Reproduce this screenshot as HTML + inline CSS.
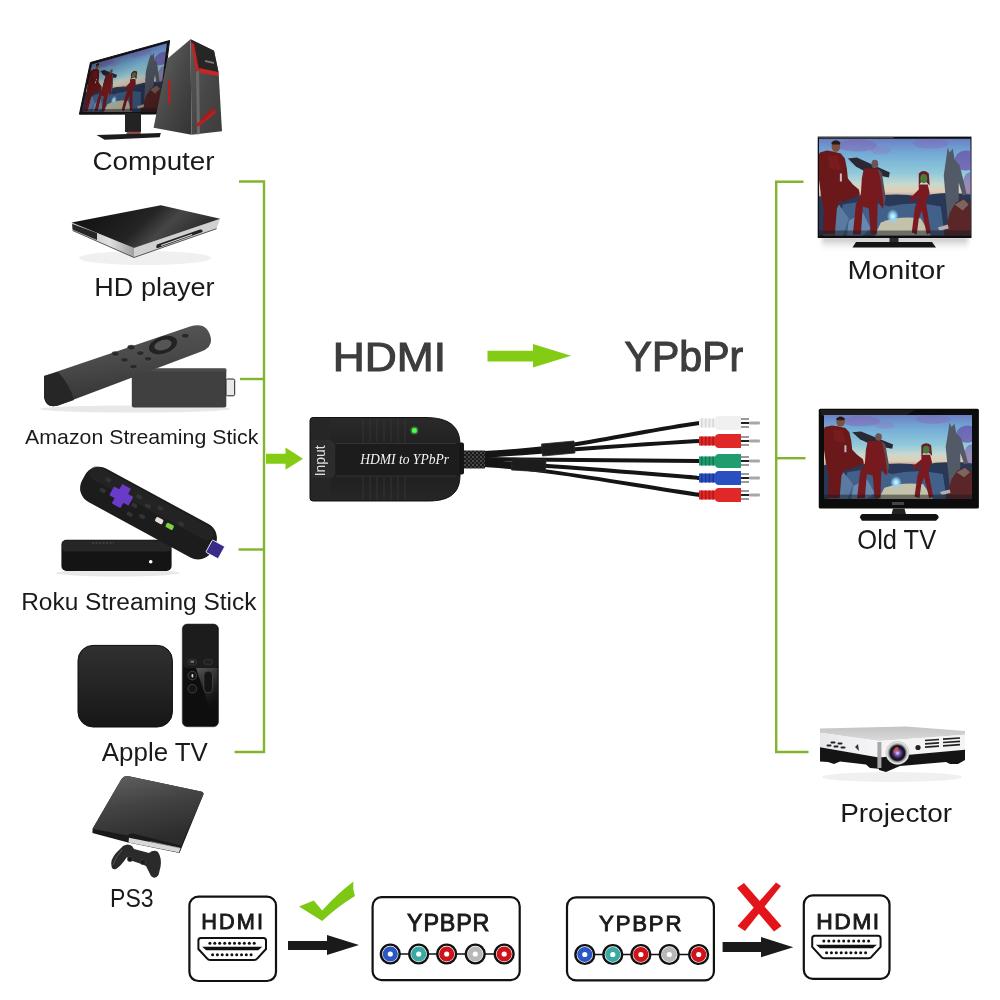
<!DOCTYPE html>
<html><head><meta charset="utf-8"><style>
html,body{margin:0;padding:0;background:#fff;width:1000px;height:1000px;overflow:hidden;position:relative}
svg{display:block}
</style></head><body>
<svg width="1000" height="1000" viewBox="0 0 1000 1000">
<rect width="1000" height="1000" fill="#ffffff"/>
<g opacity="0.999">
<defs>
<linearGradient id="sky" x1="0" y1="0" x2="0" y2="1">
<stop offset="0" stop-color="#6a80c4"/><stop offset="0.16" stop-color="#74acd6"/><stop offset="0.36" stop-color="#92cada"/><stop offset="0.47" stop-color="#c8d8d0"/><stop offset="0.55" stop-color="#e4ccb0"/><stop offset="0.63" stop-color="#6a80a4"/><stop offset="1" stop-color="#222c44"/></linearGradient>
<radialGradient id="glow" cx="0.5" cy="0.5" r="0.5"><stop offset="0" stop-color="#eaf8ff"/><stop offset="0.45" stop-color="#90d0f4"/><stop offset="1" stop-color="#90d0f4" stop-opacity="0"/></radialGradient>
<symbol id="poster" viewBox="0 0 152 97" preserveAspectRatio="none">
<rect width="152" height="97" fill="url(#sky)"/>
<ellipse cx="38" cy="7" rx="20" ry="6" fill="#8a5ab0" opacity="0.4"/>
<ellipse cx="62" cy="12" rx="10" ry="4" fill="#9a6ac0" opacity="0.3"/>
<ellipse cx="147" cy="22" rx="11" ry="10" fill="#6a4aa8" opacity="0.7"/>
<ellipse cx="112" cy="5" rx="18" ry="5" fill="#8a60b8" opacity="0.35"/>
<ellipse cx="151" cy="46" rx="7" ry="12" fill="#6a50a8" opacity="0.55"/>
<path d="M0,58 Q25,53 50,58 Q80,54 100,58 Q125,52 152,56 V97 H0 Z" fill="#2a3858"/>
<path d="M24,66 Q50,60 70,68 Q95,62 122,68 L126,97 H18 Z" fill="#41608a"/>
<path d="M8,74 L20,66 L30,80 L24,97 H4 Z" fill="#5a7aa0"/>
<path d="M62,84 Q80,77 102,80 L112,97 H56 Z" fill="#dcd4b0" opacity="0.85"/>
<path d="M30,82 L44,74 L52,90 L44,97 H28 Z" fill="#6888b0"/>
<ellipse cx="74" cy="78" rx="6" ry="7.5" fill="url(#glow)"/>
<path d="M1,14 L8,12 L14,13 L22,15 L26,20 L28,30 L29,40 L34,46 L40,51 L41,56 L36,59 L29,61 L25,64 L22,62 L18,70 L16,96 L4,96 L5,72 L2,56 L0,40 L0,16 Z" fill="#6a181a"/>
<path d="M9,17 L19,17 L22,32 L11,30 Z" fill="#822022" opacity="0.6"/>
<path d="M21,35 L23,35 L23,43 L21,43 Z" fill="#dde8f0" opacity="0.8"/>
<ellipse cx="17" cy="8" rx="4.3" ry="5.3" fill="#7a5040"/>
<path d="M12.5,4 Q17,-0.5 21.5,4 L21,6 L13,6 Z" fill="#2a1a14"/>
<path d="M29,20 L38,19 L71,34 L70,39 L50,35 L37,28 Z" fill="#2a2834"/>
<ellipse cx="56" cy="25.5" rx="3.4" ry="4.3" fill="#6a5458"/>
<path d="M45,30 L59,30 L62,40 L66,62 L64,70 L61,66 L59,58 L58,96 L52,96 L50,70 L44,68 L42,96 L34,96 L37,66 L42,56 L43,40 Z" fill="#761a1e"/>
<path d="M59,30 L63,34 L67,60 L65,68 L62,42 Z" fill="#5a4a54"/>
<path d="M100,46 L109,46 L111,55 L107,63 L112,94 L108,96 L103,72 L100,80 L98,96 L93,94 L96,70 L100,58 L94,63 L90,61 L100,51 Z" fill="#7a1a20"/>
<path d="M100,35 Q105,30 110,35 L111,47 L108,44 L104,41 L100,47 Z" fill="#6a1a24"/>
<ellipse cx="105" cy="40" rx="3.5" ry="4.6" fill="#4a7a3a"/>
<path d="M129,9 L131,14 L134,10 L136,21 L141,27 L145,43 L148,56 L144,57 L140,44 L140,60 L136,92 L130,92 L127,60 L125,37 L127,23 Z" fill="#525a68"/>
<path d="M126,95 L131,74 L137,64 L145,60 L152,66 V97 H124 Z" fill="#5a2628"/>
<path d="M136,66 L145,61 L150,66 L144,72 Z" fill="#8a8078" opacity="0.7"/>
<path d="M119,89 L129,86 L130,90 L121,92 Z" fill="#b8b0a8"/>
<rect x="0" y="92" width="152" height="5" fill="#1a1a22" opacity="0.5"/>
</symbol>
</defs>
<text transform="translate(92.41,169.70) scale(1.0671,1)" font-family="Liberation Sans" font-weight="normal" font-style="normal" font-size="26.09" fill="#1a1a1a" >Computer</text>
<text transform="translate(94.34,296.00) scale(1.0202,1)" font-family="Liberation Sans" font-weight="normal" font-style="normal" font-size="26.52" fill="#1a1a1a" >HD player</text>
<text transform="translate(25.09,444.00) scale(1.0143,1)" font-family="Liberation Sans" font-weight="normal" font-style="normal" font-size="21.01" fill="#1a1a1a" >Amazon Streaming Stick</text>
<text transform="translate(21.14,609.60) scale(1.0028,1)" font-family="Liberation Sans" font-weight="normal" font-style="normal" font-size="24.42" fill="#1a1a1a" >Roku Streaming Stick</text>
<text transform="translate(101.87,761.00) scale(0.9919,1)" font-family="Liberation Sans" font-weight="normal" font-style="normal" font-size="26.09" fill="#1a1a1a" >Apple TV</text>
<text transform="translate(110.06,907.00) scale(0.8673,1)" font-family="Liberation Sans" font-weight="normal" font-style="normal" font-size="26.52" fill="#1a1a1a" >PS3</text>
<text transform="translate(847.46,278.80) scale(1.1087,1)" font-family="Liberation Sans" font-weight="normal" font-style="normal" font-size="26.38" fill="#1a1a1a" >Monitor</text>
<text transform="translate(857.35,549.00) scale(0.9258,1)" font-family="Liberation Sans" font-weight="normal" font-style="normal" font-size="27.54" fill="#1a1a1a" >Old TV</text>
<text transform="translate(840.16,822.20) scale(1.0779,1)" font-family="Liberation Sans" font-weight="normal" font-style="normal" font-size="25.94" fill="#1a1a1a" >Projector</text>
<text transform="translate(332.65,370.70) scale(1.0818,1)" font-family="Liberation Sans" font-weight="normal" font-style="normal" font-size="41.01" fill="#3d3d3d" stroke="#3d3d3d" stroke-width="1.1">HDMI</text>
<text transform="translate(624.57,370.60) scale(0.9836,1)" font-family="Liberation Sans" font-weight="normal" font-style="normal" font-size="41.74" fill="#3d3d3d" stroke="#3d3d3d" stroke-width="1.1">YPbPr</text>
<g stroke="#80b52c" stroke-width="2.4" fill="none" stroke-linecap="butt">
<path d="M239,181.5 H264 V752 H234.5"/>
<path d="M240,379 H264"/><path d="M238.5,549.5 H264"/>
<path d="M803.5,181.8 H776.2 V752 H808.5"/><path d="M776,458.2 H805.5"/>
</g>
<path d="M266,453.8 H285.5 V447.6 L303,458.8 L285.5,469.8 V463.8 H266 Z" fill="#84cc14"/>
<path d="M487.5,350.8 H533 V344 L571,355.8 L533,367.6 V361.6 H487.5 Z" fill="#84cc14"/>
<rect x="189.4" y="896.6" width="86.6" height="84.39999999999998" rx="9" fill="#fff" stroke="#111" stroke-width="2.2"/>
<text x="201.26" y="929.40" letter-spacing="2.087" font-family="Liberation Sans" font-weight="normal" font-style="normal" font-size="21.74" fill="#1a1a1a" stroke="#1a1a1a" stroke-width="0.9">HDMI</text>
<path d="M200.9,938 H263.5 Q266,938 266,940.5 V949.0 L257.212,958.5 Q256.212,960 254.212,960 H210.18800000000002 Q208.18800000000002,960 207.18800000000002,958.5 L198.4,949.0 V940.5 Q198.4,938 200.9,938 Z" fill="#fff" stroke="#111" stroke-width="2"/><path d="M202.118,946.84 H262.282 L258.282,950.24 H206.118 Z" fill="#111"/><circle cx="209.9" cy="943.3" r="1.5" fill="#111"/><circle cx="214.8" cy="943.3" r="1.5" fill="#111"/><circle cx="219.7" cy="943.3" r="1.5" fill="#111"/><circle cx="224.7" cy="943.3" r="1.5" fill="#111"/><circle cx="229.6" cy="943.3" r="1.5" fill="#111"/><circle cx="234.5" cy="943.3" r="1.5" fill="#111"/><circle cx="239.4" cy="943.3" r="1.5" fill="#111"/><circle cx="244.3" cy="943.3" r="1.5" fill="#111"/><circle cx="249.3" cy="943.3" r="1.5" fill="#111"/><circle cx="254.2" cy="943.3" r="1.5" fill="#111"/><circle cx="212.6" cy="954.7" r="1.5" fill="#111"/><circle cx="217.4" cy="954.7" r="1.5" fill="#111"/><circle cx="222.2" cy="954.7" r="1.5" fill="#111"/><circle cx="227.0" cy="954.7" r="1.5" fill="#111"/><circle cx="231.9" cy="954.7" r="1.5" fill="#111"/><circle cx="236.7" cy="954.7" r="1.5" fill="#111"/><circle cx="241.5" cy="954.7" r="1.5" fill="#111"/><circle cx="246.3" cy="954.7" r="1.5" fill="#111"/><circle cx="251.1" cy="954.7" r="1.5" fill="#111"/>
<path d="M288,941 H327 V935 L359,945.0 L327,955 V950 H288 Z" fill="#1a1a1a"/>
<path d="M299,906.5 L313.8,900.4 L322.2,910.4 Q337,894 353.5,881.5 Q352.5,889 355,896 Q337,907 322.2,921 Z" fill="#7cc814"/>
<rect x="372.6" y="897.2" width="147.10000000000002" height="83.0" rx="9" fill="#fff" stroke="#111" stroke-width="2.2"/>
<text x="407.02" y="931.00" letter-spacing="0.833" font-family="Liberation Sans" font-weight="normal" font-style="normal" font-size="23.33" fill="#1a1a1a" stroke="#1a1a1a" stroke-width="0.9">YPBPR</text>
<line x1="390.3" y1="954" x2="504.2" y2="954" stroke="#111" stroke-width="1.6"/><circle cx="390.3" cy="954" r="9.4" fill="#fff" stroke="#111" stroke-width="2.4"/><circle cx="390.3" cy="954" r="5.1" fill="none" stroke="#2a56c6" stroke-width="5"/><circle cx="418.7" cy="954" r="9.4" fill="#fff" stroke="#111" stroke-width="2.4"/><circle cx="418.7" cy="954" r="5.1" fill="none" stroke="#3aa9a3" stroke-width="5"/><circle cx="446.7" cy="954" r="9.4" fill="#fff" stroke="#111" stroke-width="2.4"/><circle cx="446.7" cy="954" r="5.1" fill="none" stroke="#d0131b" stroke-width="5"/><circle cx="475.3" cy="954" r="9.4" fill="#fff" stroke="#111" stroke-width="2.4"/><circle cx="475.3" cy="954" r="5.1" fill="none" stroke="#b8b8b8" stroke-width="5"/><circle cx="504.2" cy="954" r="9.4" fill="#fff" stroke="#111" stroke-width="2.4"/><circle cx="504.2" cy="954" r="5.1" fill="none" stroke="#d0131b" stroke-width="5"/>
<rect x="567" y="897.4" width="146.89999999999998" height="83.0" rx="9" fill="#fff" stroke="#111" stroke-width="2.2"/>
<text x="599.05" y="930.90" letter-spacing="1.821" font-family="Liberation Sans" font-weight="normal" font-style="normal" font-size="22.17" fill="#1a1a1a" stroke="#1a1a1a" stroke-width="0.9">YPBPR</text>
<line x1="584.8" y1="954.5" x2="698.7" y2="954.5" stroke="#111" stroke-width="1.6"/><circle cx="584.8" cy="954.5" r="9.4" fill="#fff" stroke="#111" stroke-width="2.4"/><circle cx="584.8" cy="954.5" r="5.1" fill="none" stroke="#2a56c6" stroke-width="5"/><circle cx="612.8" cy="954.5" r="9.4" fill="#fff" stroke="#111" stroke-width="2.4"/><circle cx="612.8" cy="954.5" r="5.1" fill="none" stroke="#3aa9a3" stroke-width="5"/><circle cx="640.9" cy="954.5" r="9.4" fill="#fff" stroke="#111" stroke-width="2.4"/><circle cx="640.9" cy="954.5" r="5.1" fill="none" stroke="#d0131b" stroke-width="5"/><circle cx="669.3" cy="954.5" r="9.4" fill="#fff" stroke="#111" stroke-width="2.4"/><circle cx="669.3" cy="954.5" r="5.1" fill="none" stroke="#b8b8b8" stroke-width="5"/><circle cx="698.7" cy="954.5" r="9.4" fill="#fff" stroke="#111" stroke-width="2.4"/><circle cx="698.7" cy="954.5" r="5.1" fill="none" stroke="#d0131b" stroke-width="5"/>
<path d="M722.6,942 H761 V937 L793.3,947.15 L761,957.3 V952 H722.6 Z" fill="#1a1a1a"/>
<g fill="#e3151a"><path d="M737,888 L744,883 L781.5,926 L774,931.5 Z"/><path d="M776,882.5 L781,886 L745,931 L737.5,926 Z"/></g>
<rect x="803.8" y="895.3" width="85.70000000000005" height="83.5" rx="9" fill="#fff" stroke="#111" stroke-width="2.2"/>
<text x="816.17" y="929.00" letter-spacing="1.500" font-family="Liberation Sans" font-weight="normal" font-style="normal" font-size="22.90" fill="#1a1a1a" stroke="#1a1a1a" stroke-width="0.9">HDMI</text>
<path d="M814.7,935.7 H878.1 Q880.6,935.7 880.6,938.2 V946.95 L871.708,956.7 Q870.708,958.2 868.708,958.2 H824.0920000000001 Q822.0920000000001,958.2 821.0920000000001,956.7 L812.2,946.95 V938.2 Q812.2,935.7 814.7,935.7 Z" fill="#fff" stroke="#111" stroke-width="2"/><path d="M815.962,944.7750000000001 H876.8380000000001 L872.8380000000001,948.1750000000001 H819.962 Z" fill="#111"/><circle cx="823.8" cy="941.1" r="1.5" fill="#111"/><circle cx="828.8" cy="941.1" r="1.5" fill="#111"/><circle cx="833.8" cy="941.1" r="1.5" fill="#111"/><circle cx="838.8" cy="941.1" r="1.5" fill="#111"/><circle cx="843.7" cy="941.1" r="1.5" fill="#111"/><circle cx="848.7" cy="941.1" r="1.5" fill="#111"/><circle cx="853.7" cy="941.1" r="1.5" fill="#111"/><circle cx="858.7" cy="941.1" r="1.5" fill="#111"/><circle cx="863.7" cy="941.1" r="1.5" fill="#111"/><circle cx="868.6" cy="941.1" r="1.5" fill="#111"/><circle cx="826.6" cy="952.8" r="1.5" fill="#111"/><circle cx="831.4" cy="952.8" r="1.5" fill="#111"/><circle cx="836.3" cy="952.8" r="1.5" fill="#111"/><circle cx="841.2" cy="952.8" r="1.5" fill="#111"/><circle cx="846.1" cy="952.8" r="1.5" fill="#111"/><circle cx="850.9" cy="952.8" r="1.5" fill="#111"/><circle cx="855.8" cy="952.8" r="1.5" fill="#111"/><circle cx="860.7" cy="952.8" r="1.5" fill="#111"/><circle cx="865.6" cy="952.8" r="1.5" fill="#111"/>
<defs>
<linearGradient id="devg" x1="0" y1="0" x2="0" y2="1">
<stop offset="0" stop-color="#2a2a2a"/><stop offset="0.5" stop-color="#1d1d1d"/><stop offset="1" stop-color="#262626"/></linearGradient>
<pattern id="braid" width="4" height="4" patternUnits="userSpaceOnUse"><rect width="4" height="4" fill="#1a1a1a"/><rect x="0" y="0" width="2" height="2" fill="#4a4a4a"/><rect x="2" y="2" width="2" height="2" fill="#3a3a3a"/></pattern>
</defs>
<path d="M484,453 C520,451 560,448 600,440 C640,433 670,427 700,423" fill="none" stroke="#151515" stroke-width="4"/>
<path d="M484,456 C530,453 600,447 700,441" fill="none" stroke="#151515" stroke-width="4"/>
<path d="M484,459 C560,460 640,460 700,461" fill="none" stroke="#151515" stroke-width="4"/>
<path d="M484,462 C560,466 640,473 700,478" fill="none" stroke="#151515" stroke-width="4"/>
<path d="M484,465 C540,468 620,483 700,495" fill="none" stroke="#151515" stroke-width="4"/>
<path d="M541.5,444 L574,441 L575,453 L542.5,456 Z" fill="#1c1c1c" stroke="#2c2c2c" stroke-width="0.8"/>
<path d="M512,458 L546,460 L545.5,472 L511.5,470 Z" fill="#1c1c1c" stroke="#2c2c2c" stroke-width="0.8"/>
<rect x="458" y="450.5" width="27" height="18" fill="url(#braid)"/>
<rect x="458" y="442.5" width="6" height="32" rx="2" fill="#161616"/>
<path d="M313,417.5 H425 C450,417.5 460,427 460,445 V475 C460,493 450,501 428,501 H313 Q310,501 310,498 V420.5 Q310,417.5 313,417.5 Z" fill="url(#devg)" stroke="#111" stroke-width="1"/>
<path d="M311,419 H330 V500 H311 Z" fill="#262626"/>
<path d="M311,440 H330 Q335,441 335,446 V473 Q335,478 330,478 H311 Z" fill="#2c2c2c"/>
<rect x="336" y="443" width="123" height="33" fill="#1c1c1c"/>
<line x1="336" y1="443.5" x2="456" y2="443.5" stroke="#3a3a3a" stroke-width="0.8"/>
<line x1="336" y1="476" x2="456" y2="476" stroke="#3a3a3a" stroke-width="0.8"/>
<line x1="363" y1="419" x2="363" y2="442" stroke="#353535" stroke-width="0.9"/>
<line x1="363" y1="477" x2="363" y2="500" stroke="#353535" stroke-width="0.9"/>
<line x1="370" y1="419" x2="370" y2="442" stroke="#353535" stroke-width="0.9"/>
<line x1="370" y1="477" x2="370" y2="500" stroke="#353535" stroke-width="0.9"/>
<line x1="377" y1="419" x2="377" y2="442" stroke="#353535" stroke-width="0.9"/>
<line x1="377" y1="477" x2="377" y2="500" stroke="#353535" stroke-width="0.9"/>
<line x1="384" y1="419" x2="384" y2="442" stroke="#353535" stroke-width="0.9"/>
<line x1="384" y1="477" x2="384" y2="500" stroke="#353535" stroke-width="0.9"/>
<line x1="391" y1="419" x2="391" y2="442" stroke="#353535" stroke-width="0.9"/>
<line x1="391" y1="477" x2="391" y2="500" stroke="#353535" stroke-width="0.9"/>
<line x1="398" y1="419" x2="398" y2="442" stroke="#353535" stroke-width="0.9"/>
<line x1="398" y1="477" x2="398" y2="500" stroke="#353535" stroke-width="0.9"/>
<line x1="405" y1="419" x2="405" y2="442" stroke="#353535" stroke-width="0.9"/>
<line x1="405" y1="477" x2="405" y2="500" stroke="#353535" stroke-width="0.9"/>
<circle cx="414.4" cy="430.4" r="4" fill="#5fff5f" opacity="0.35"/><circle cx="414.4" cy="430.4" r="2.5" fill="#4cff4c"/>
<text transform="translate(360.14,464.00) scale(0.8880,1)" font-family="Liberation Serif" font-weight="normal" font-style="italic" font-size="15.27" fill="#f4f4f4" >HDMI to YPbPr</text>
<g transform="translate(315.5,475) rotate(-90)"><text transform="translate(-1.25,9.50) scale(1.0083,1)" font-family="Liberation Sans" font-weight="normal" font-style="normal" font-size="13.77" fill="#e0e0e0" >Input</text></g>
<rect x="699" y="418.5" width="17" height="9" fill="#f0f0f0"/>
<rect x="701.0" y="418.5" width="1.6" height="9" fill="#d8d8d8"/>
<rect x="704.8" y="418.5" width="1.6" height="9" fill="#d8d8d8"/>
<rect x="708.6" y="418.5" width="1.6" height="9" fill="#d8d8d8"/>
<rect x="712.4" y="418.5" width="1.6" height="9" fill="#d8d8d8"/>
<path d="M719,416 H741 V430 H719 Q715,430 715,426 V420 Q715,416 719,416 Z" fill="#f0f0f0"/>
<rect x="741" y="417.5" width="8" height="11" fill="#fff"/>
<rect x="741" y="418" width="8" height="2" fill="#9a9a9a"/><rect x="741" y="422" width="8" height="2" fill="#222"/><rect x="741" y="426" width="8" height="2" fill="#9a9a9a"/>
<rect x="749" y="421.5" width="11" height="3" rx="1" fill="#a8a8a8"/>
<rect x="699" y="436.5" width="17" height="9" fill="#e02828"/>
<rect x="701.0" y="436.5" width="1.6" height="9" fill="#b81818"/>
<rect x="704.8" y="436.5" width="1.6" height="9" fill="#b81818"/>
<rect x="708.6" y="436.5" width="1.6" height="9" fill="#b81818"/>
<rect x="712.4" y="436.5" width="1.6" height="9" fill="#b81818"/>
<path d="M719,434 H741 V448 H719 Q715,448 715,444 V438 Q715,434 719,434 Z" fill="#e02828"/>
<rect x="741" y="435.5" width="8" height="11" fill="#fff"/>
<rect x="741" y="436" width="8" height="2" fill="#9a9a9a"/><rect x="741" y="440" width="8" height="2" fill="#222"/><rect x="741" y="444" width="8" height="2" fill="#9a9a9a"/>
<rect x="749" y="439.5" width="11" height="3" rx="1" fill="#a8a8a8"/>
<rect x="699" y="456.5" width="17" height="9" fill="#1e9e6e"/>
<rect x="701.0" y="456.5" width="1.6" height="9" fill="#137a52"/>
<rect x="704.8" y="456.5" width="1.6" height="9" fill="#137a52"/>
<rect x="708.6" y="456.5" width="1.6" height="9" fill="#137a52"/>
<rect x="712.4" y="456.5" width="1.6" height="9" fill="#137a52"/>
<path d="M719,454 H741 V468 H719 Q715,468 715,464 V458 Q715,454 719,454 Z" fill="#1e9e6e"/>
<rect x="741" y="455.5" width="8" height="11" fill="#fff"/>
<rect x="741" y="456" width="8" height="2" fill="#9a9a9a"/><rect x="741" y="460" width="8" height="2" fill="#222"/><rect x="741" y="464" width="8" height="2" fill="#9a9a9a"/>
<rect x="749" y="459.5" width="11" height="3" rx="1" fill="#a8a8a8"/>
<rect x="699" y="473.5" width="17" height="9" fill="#2850c0"/>
<rect x="701.0" y="473.5" width="1.6" height="9" fill="#1a3a9a"/>
<rect x="704.8" y="473.5" width="1.6" height="9" fill="#1a3a9a"/>
<rect x="708.6" y="473.5" width="1.6" height="9" fill="#1a3a9a"/>
<rect x="712.4" y="473.5" width="1.6" height="9" fill="#1a3a9a"/>
<path d="M719,471 H741 V485 H719 Q715,485 715,481 V475 Q715,471 719,471 Z" fill="#2850c0"/>
<rect x="741" y="472.5" width="8" height="11" fill="#fff"/>
<rect x="741" y="473" width="8" height="2" fill="#9a9a9a"/><rect x="741" y="477" width="8" height="2" fill="#222"/><rect x="741" y="481" width="8" height="2" fill="#9a9a9a"/>
<rect x="749" y="476.5" width="11" height="3" rx="1" fill="#a8a8a8"/>
<rect x="699" y="490.5" width="17" height="9" fill="#e02828"/>
<rect x="701.0" y="490.5" width="1.6" height="9" fill="#b81818"/>
<rect x="704.8" y="490.5" width="1.6" height="9" fill="#b81818"/>
<rect x="708.6" y="490.5" width="1.6" height="9" fill="#b81818"/>
<rect x="712.4" y="490.5" width="1.6" height="9" fill="#b81818"/>
<path d="M719,488 H741 V502 H719 Q715,502 715,498 V492 Q715,488 719,488 Z" fill="#e02828"/>
<rect x="741" y="489.5" width="8" height="11" fill="#fff"/>
<rect x="741" y="490" width="8" height="2" fill="#9a9a9a"/><rect x="741" y="494" width="8" height="2" fill="#222"/><rect x="741" y="498" width="8" height="2" fill="#9a9a9a"/>
<rect x="749" y="493.5" width="11" height="3" rx="1" fill="#a8a8a8"/>
<defs><linearGradient id="monsh" x1="0" y1="0" x2="0" y2="1"><stop offset="0" stop-color="#a8a8a8" stop-opacity="0.9"/><stop offset="1" stop-color="#fff" stop-opacity="0"/></linearGradient><filter id="blr" x="-20%" y="-50%" width="140%" height="200%"><feGaussianBlur stdDeviation="2"/></filter></defs>
<rect x="822" y="237" width="146" height="15" fill="url(#monsh)" filter="url(#blr)"/>
<rect x="817.7" y="136.6" width="153.8" height="101.4" fill="#0e0e0e"/>
<use href="#poster" x="818.9" y="138.6" width="151.8" height="96.9"/>
<rect x="818.5" y="136.8" width="75" height="1.5" fill="#6a6a6a" opacity="0.6"/>
<rect x="889.5" y="238" width="9" height="5" fill="#2a2a2a"/>
<path d="M856,242 H932 L936,247.5 H852.5 Z" fill="#151515"/>
<rect x="818.75" y="408.75" width="160.15" height="99.75" rx="1.5" fill="#0c0c0c"/>
<path d="M820,410 H915 L905,416 H822 Z" fill="#2a2a2a" opacity="0.6"/>
<use href="#poster" x="824" y="415" width="148" height="84"/>
<rect x="892" y="502" width="12" height="3" fill="#444"/>
<path d="M893,508.5 H904.5 L906,514.5 H891.5 Z" fill="#222"/>
<path d="M862,514 H936 Q939,515 938.6,518 L936,520.8 H862 L859.9,517.5 Q860,515 862,514 Z" fill="#121212"/>
<path d="M90.4,62.5 L169.6,40.5 L160,114 L79.4,114.2 Z" fill="#111" stroke="#111" stroke-width="1" stroke-linejoin="round"/>
<path d="M125,113 H141 V132 H125 Z" fill="#232323"/>
<path d="M96.5,135.1 L160.8,132.9 L159.7,137.3 L104.7,139.8 Z" fill="#1c1c1c"/>
<path d="M128,131 H140 L141,134 H126 Z" fill="#6a2020" opacity="0.8"/>
<defs><linearGradient id="hdtop" x1="0" y1="0" x2="1" y2="0.3"><stop offset="0" stop-color="#0c0c0c"/><stop offset="0.55" stop-color="#242424"/><stop offset="0.72" stop-color="#464646"/><stop offset="1" stop-color="#2a2a2a"/></linearGradient>
<linearGradient id="hdside" x1="0" y1="0" x2="1" y2="0"><stop offset="0" stop-color="#b8b8b8"/><stop offset="0.6" stop-color="#e0e0e0"/><stop offset="1" stop-color="#a0a0a0"/></linearGradient></defs>
<ellipse cx="145" cy="258" rx="66" ry="7" fill="#f0f0f0"/>
<path d="M71.7,222.4 L134,248 L134,257.5 L72.6,230.5 Z" fill="url(#hdside)"/>
<path d="M72.2,224 L97,233 L97,240 L72.6,229.5 Z" fill="#262626"/>
<path d="M134,248 L220.2,218.8 L216.6,228.7 L134,257.5 Z" fill="#d0d0d0"/>
<path d="M134,257.5 L72.6,230.5" stroke="#333" stroke-width="0.8"/><path d="M134,257.5 L216.6,228.7" stroke="#333" stroke-width="0.8"/>
<path d="M157,244.5 L200,229.5 Q203,229 202.5,232 L158,248 Q155,248.5 157,244.5 Z" fill="#222"/>
<path d="M161,245.5 L192,234.5" stroke="#d8d8d8" stroke-width="1.2"/>
<path d="M71.7,222.4 L160.8,205.3 L220.2,218.8 L134,248 Z" fill="url(#hdtop)"/>
<defs><linearGradient id="fsr" x1="0" y1="0" x2="0.25" y2="1"><stop offset="0" stop-color="#5a5a5a"/><stop offset="0.5" stop-color="#4a4a4a"/><stop offset="0.85" stop-color="#3a3a3a"/><stop offset="1" stop-color="#262626"/></linearGradient></defs>
<ellipse cx="135" cy="409" rx="95" ry="3.5" fill="#e8e8e8"/>
<rect x="131.8" y="368.5" width="94.5" height="38.9" rx="2" fill="#404040"/>
<rect x="131.8" y="368.5" width="94.5" height="3" fill="#4c4c4c"/>
<rect x="226" y="379" width="8.7" height="16.8" rx="1.5" fill="#e8e8e8" stroke="#222" stroke-width="1"/>
<path d="M44,376 L190,326.5 Q208,321 211,339 Q212,348 200,352 L58,405.5 Q46,409 44,397 Z" fill="url(#fsr)"/>
<path d="M44,376 L58,372 Q70,385 74,400 L58,405.5 Q46,409 44,397 Z" fill="#262626"/>
<ellipse cx="163" cy="345" rx="14.5" ry="8.5" transform="rotate(-18 163 345)" fill="#222"/>
<ellipse cx="163" cy="345" rx="9" ry="5" transform="rotate(-18 163 345)" fill="#555"/>
<ellipse cx="115.5" cy="353.8" rx="3.8" ry="2.4" fill="#2a2a2a" stroke="#666" stroke-width="0.5"/>
<ellipse cx="131.3" cy="347.5" rx="3.8" ry="2.4" fill="#2a2a2a" stroke="#666" stroke-width="0.5"/>
<ellipse cx="140.3" cy="353.1" rx="3.8" ry="2.4" fill="#2a2a2a" stroke="#666" stroke-width="0.5"/>
<ellipse cx="124.5" cy="359.9" rx="3.8" ry="2.4" fill="#2a2a2a" stroke="#666" stroke-width="0.5"/>
<ellipse cx="148.1" cy="358.8" rx="3.8" ry="2.4" fill="#2a2a2a" stroke="#666" stroke-width="0.5"/>
<ellipse cx="133.5" cy="366.6" rx="3.8" ry="2.4" fill="#2a2a2a" stroke="#666" stroke-width="0.5"/>
<ellipse cx="185.3" cy="335.8" rx="3.8" ry="2.4" fill="#2a2a2a" stroke="#666" stroke-width="0.5"/>
<ellipse cx="118" cy="573" rx="62" ry="3.5" fill="#e8e8e8"/>
<rect x="61.4" y="539.8" width="110.2" height="31.2" rx="5" fill="#141414"/>
<rect x="62" y="540.5" width="109" height="11" rx="4" fill="#262626"/>
<path d="M92,543 h22" stroke="#555" stroke-width="1.2" stroke-dasharray="2,1.5"/>
<circle cx="150.7" cy="561.7" r="1.8" fill="#fff"/>
<g transform="translate(152,515) rotate(28.5)">
<rect x="-78" y="-19" width="148" height="38" rx="16" fill="#1c1c1c"/>
<rect x="-76" y="-17" width="140" height="14" rx="8" fill="#272727" opacity="0.7"/>
<rect x="65" y="-7" width="14" height="14" rx="1" fill="#3a2a8a" stroke="#fff" stroke-width="0.8"/>
<path d="M-40,-12 h8 v6 h6 v8 h-6 v6 h-8 v-6 h-6 v-8 h6 Z" fill="#6a3ac8" stroke="#6a3ac8" stroke-width="2" stroke-linejoin="round"/>
<rect x="-58" y="-12" width="6" height="4" rx="1.5" fill="#333"/>
<rect x="-58" y="0" width="6" height="4" rx="1.5" fill="#333"/>
<rect x="-23" y="-12" width="6" height="4" rx="1.5" fill="#333"/>
<rect x="-23" y="-2" width="6" height="4" rx="1.5" fill="#333"/>
<rect x="-23" y="8" width="6" height="4" rx="1.5" fill="#333"/>
<rect x="-11" y="-8" width="6" height="4" rx="1.5" fill="#333"/>
<rect x="-11" y="4" width="6" height="4" rx="1.5" fill="#333"/>
<rect x="1" y="-12" width="6" height="4" rx="1.5" fill="#333"/>
<rect x="27" y="-8" width="6" height="4" rx="1.5" fill="#333"/>
<rect x="5" y="-1" width="8" height="5" rx="1.5" fill="#e8e0d8"/>
<rect x="17" y="-1" width="8" height="5" rx="1.5" fill="#7ad040"/>
</g>
<defs><linearGradient id="atv" x1="0" y1="0" x2="0" y2="1"><stop offset="0" stop-color="#303030"/><stop offset="0.5" stop-color="#242424"/><stop offset="1" stop-color="#161616"/></linearGradient>
<linearGradient id="atgl" x1="0" y1="0" x2="0.3" y2="1"><stop offset="0" stop-color="#6a6a6a" stop-opacity="0.8"/><stop offset="1" stop-color="#333" stop-opacity="0"/></linearGradient></defs>
<rect x="78" y="645.4" width="94.4" height="81.6" rx="15" fill="url(#atv)" stroke="#0c0c0c" stroke-width="1"/>
<rect x="182.3" y="624.1" width="36.2" height="102.6" rx="5" fill="#0e0e0e" stroke="#3a3a3a" stroke-width="0.7"/>
<rect x="183.2" y="625" width="34.4" height="43" rx="4" fill="#1c1c1c"/>
<path d="M196,668 L217.5,668 L217.5,715 L212,715 Z" fill="url(#atgl)"/>
<rect x="187.8" y="659.2" width="9" height="5.6" rx="2.8" fill="#222" stroke="#444" stroke-width="0.5"/>
<rect x="203.7" y="659.2" width="9" height="5.6" rx="2.8" fill="#222" stroke="#444" stroke-width="0.5"/>
<rect x="190.5" y="660.8" width="3.6" height="1.8" fill="#aaa" opacity="0.7"/>
<circle cx="192.3" cy="675.6" r="4.3" fill="#151515" stroke="#555" stroke-width="0.7"/>
<circle cx="192.3" cy="688.7" r="4.3" fill="#151515" stroke="#555" stroke-width="0.7"/>
<rect x="191.5" y="674" width="1.8" height="3.4" rx="0.9" fill="#ddd"/>
<rect x="203.8" y="671" width="8.8" height="22" rx="4.4" fill="#151515" stroke="#555" stroke-width="0.7"/>
<defs><linearGradient id="ps3g" x1="0" y1="0" x2="0.3" y2="1"><stop offset="0" stop-color="#626262"/><stop offset="0.5" stop-color="#424242"/><stop offset="1" stop-color="#2c2c2c"/></linearGradient></defs>
<path d="M92.6,828.8 L121.5,779 Q124.5,774.8 130,776.5 L201,791.5 Q204.5,792.5 203.2,795 L179.5,853 L128,842.5 L92.4,833 Z" fill="#1a1a1a"/>
<path d="M92.6,828.8 L121.5,779 Q124.5,774.8 130,776.5 L201,791.5 Q204.5,792.5 203.2,795 L181,845.5 L133,833.5 Q130,833 127.6,835.5 Z" fill="url(#ps3g)"/>
<path d="M129,837.8 L180.5,848 L179,852.6 L128.5,842.4 Z" fill="#d8d8d8"/>
<path d="M150,841.5 L179.5,848" stroke="#999" stroke-width="0.7"/>
<path d="M111.5,866 Q110,860 116,853 L123,846 Q128,843 132,846 L134,849 L149,853 Q154,849 158,852 Q162,858 160.5,867 L158.5,875 Q155,880 151,876 L146,866 L140,863.5 L131,860.5 L127,857 Q121,866 116,869 Q112,870 111.5,866 Z" fill="#2a2a2a"/>
<path d="M113,865 Q116,856 122,850" stroke="#555" stroke-width="1" fill="none"/>
<circle cx="130" cy="859" r="2.6" fill="#1a1a1a" stroke="#444" stroke-width="0.6"/><circle cx="143" cy="862" r="2.6" fill="#1a1a1a" stroke="#444" stroke-width="0.6"/>
<defs><linearGradient id="projtop" x1="0" y1="0" x2="0" y2="1"><stop offset="0" stop-color="#c4c4c4"/><stop offset="1" stop-color="#dadada"/></linearGradient>
<linearGradient id="projl" x1="0" y1="0" x2="1" y2="0"><stop offset="0" stop-color="#e8e8ec"/><stop offset="1" stop-color="#f6f6f8"/></linearGradient>
<radialGradient id="lens" cx="0.5" cy="0.5" r="0.5"><stop offset="0" stop-color="#f0e8ff"/><stop offset="0.18" stop-color="#8a60d0"/><stop offset="0.45" stop-color="#2a1a40"/><stop offset="0.62" stop-color="#111"/><stop offset="0.75" stop-color="#9a9a9a"/><stop offset="0.9" stop-color="#e8e8e8"/><stop offset="1" stop-color="#bbb"/></radialGradient></defs>
<ellipse cx="892" cy="777" rx="70" ry="5" fill="#f0f0f0"/>
<path d="M820,732.8 L820,728.5 L906,726.5 L965,731 L965,734.8 L879,741 Z" fill="url(#projtop)"/>
<path d="M820,732.8 L879,741 L879,757.6 L820,747.2 Z" fill="url(#projl)"/>
<path d="M879,741 L965,734.8 L965,749.7 L879,757.6 Z" fill="#f4f4f4"/>
<path d="M820,747.2 L879,757.6 L879,768.8 L870,768 L866,764.5 L840,761.5 L834,764 L828,762 L820,761.6 Z" fill="#141414"/>
<path d="M879,757.6 L965,749.7 L965,760 L958,764 L950,764 L946,762 L900,766 L886,772 L879,770 Z" fill="#141414"/>
<rect x="830.5" y="741.5" width="5" height="2" rx="1" fill="#222"/>
<rect x="837.5" y="742.5" width="5" height="2" rx="1" fill="#222"/>
<rect x="826.5" y="744.5" width="5" height="2" rx="1" fill="#222"/>
<rect x="833.5" y="745.5" width="5" height="2" rx="1" fill="#222"/>
<rect x="840.5" y="746.5" width="5" height="2" rx="1" fill="#222"/>
<path d="M925,740.5 L939,739.5 M943,739.2 L960,738.0" stroke="#222" stroke-width="1.7"/>
<path d="M925,743.8 L939,742.8 M943,742.5 L960,741.3" stroke="#222" stroke-width="1.7"/>
<path d="M925,747.1 L939,746.1 M943,745.8000000000001 L960,744.6" stroke="#222" stroke-width="1.7"/>
<path d="M855,747 L858,744 L859,751 Z" fill="#333"/>
<circle cx="918" cy="747.5" r="2.6" fill="#222"/>
<rect x="877.4" y="742" width="4" height="26" fill="#a8a8a8"/>
<circle cx="897.5" cy="753" r="11.8" fill="url(#lens)"/>
<ellipse cx="896" cy="750" rx="2" ry="3.5" fill="#ff6a30" opacity="0.6" transform="rotate(30 896 750)"/>
</g>
</svg>
<div style="position:absolute;left:0;top:0;width:152px;height:97px;transform-origin:0 0;transform:matrix3d(0.15872022,-0.22416303,0.00000000,-0.00200146,-0.15774575,0.42342963,0.00000000,-0.00061923,0.00000000,0.00000000,1.00000000,0.00000000,92.00000000,64.20000000,0.00000000,1.00000000)"><svg width="152" height="97" viewBox="0 0 152 97" style="display:block"><use href="#poster" x="0" y="0" width="152" height="97"/><defs><linearGradient id="cdark" x1="0" y1="0" x2="1" y2="1"><stop offset="0" stop-color="#000" stop-opacity="0.35"/><stop offset="0.5" stop-color="#000" stop-opacity="0.1"/><stop offset="1" stop-color="#000" stop-opacity="0.3"/></linearGradient></defs><rect width="152" height="97" fill="url(#cdark)"/></svg></div>
<svg style="position:absolute;left:0;top:0" width="1000" height="1000" viewBox="0 0 1000 1000"><defs><linearGradient id="towside" x1="0" y1="0" x2="1" y2="1"><stop offset="0" stop-color="#6a6a6a"/><stop offset="0.5" stop-color="#4a4a4a"/><stop offset="1" stop-color="#333"/></linearGradient>
<linearGradient id="towfront" x1="0" y1="0" x2="1" y2="1"><stop offset="0" stop-color="#5a5a5a"/><stop offset="0.5" stop-color="#484848"/><stop offset="1" stop-color="#3c3c3c"/></linearGradient></defs>
<path d="M167.4,58.8 L190.5,39.2 L191.5,134.7 L153.6,127.8 Z" fill="url(#towside)"/>
<path d="M190.5,39.2 L214,50.7 L218.6,72.6 L222,131.3 L191.5,134.7 Z" fill="url(#towfront)"/>
<path d="M190.5,39.2 L214,50.7 L218.6,72.6 L199,70 Z" fill="#262626"/>
<path d="M191,42 L194,44 L199,70 L196,72 Z" fill="#c42222"/>
<path d="M196,72 L199,70 L200,134 L197,134.5 Z" fill="#6a6a6a"/>
<path d="M199,68 L218,72 L218.5,76 L200,73 Z" fill="#c82626"/>
<path d="M196,124 L215,110 L216,113 L198,127 Z" fill="#b82020"/>
<path d="M201,119 L214,106 L215,108 L203,121 Z" fill="#a01c1c"/>
<path d="M168,80 L170.5,79 L170.5,103 L168,104 Z" fill="#b02020"/>
<path d="M205,60 L214,62 L214,64 L205,62 Z" fill="#777"/></svg>
</body></html>
